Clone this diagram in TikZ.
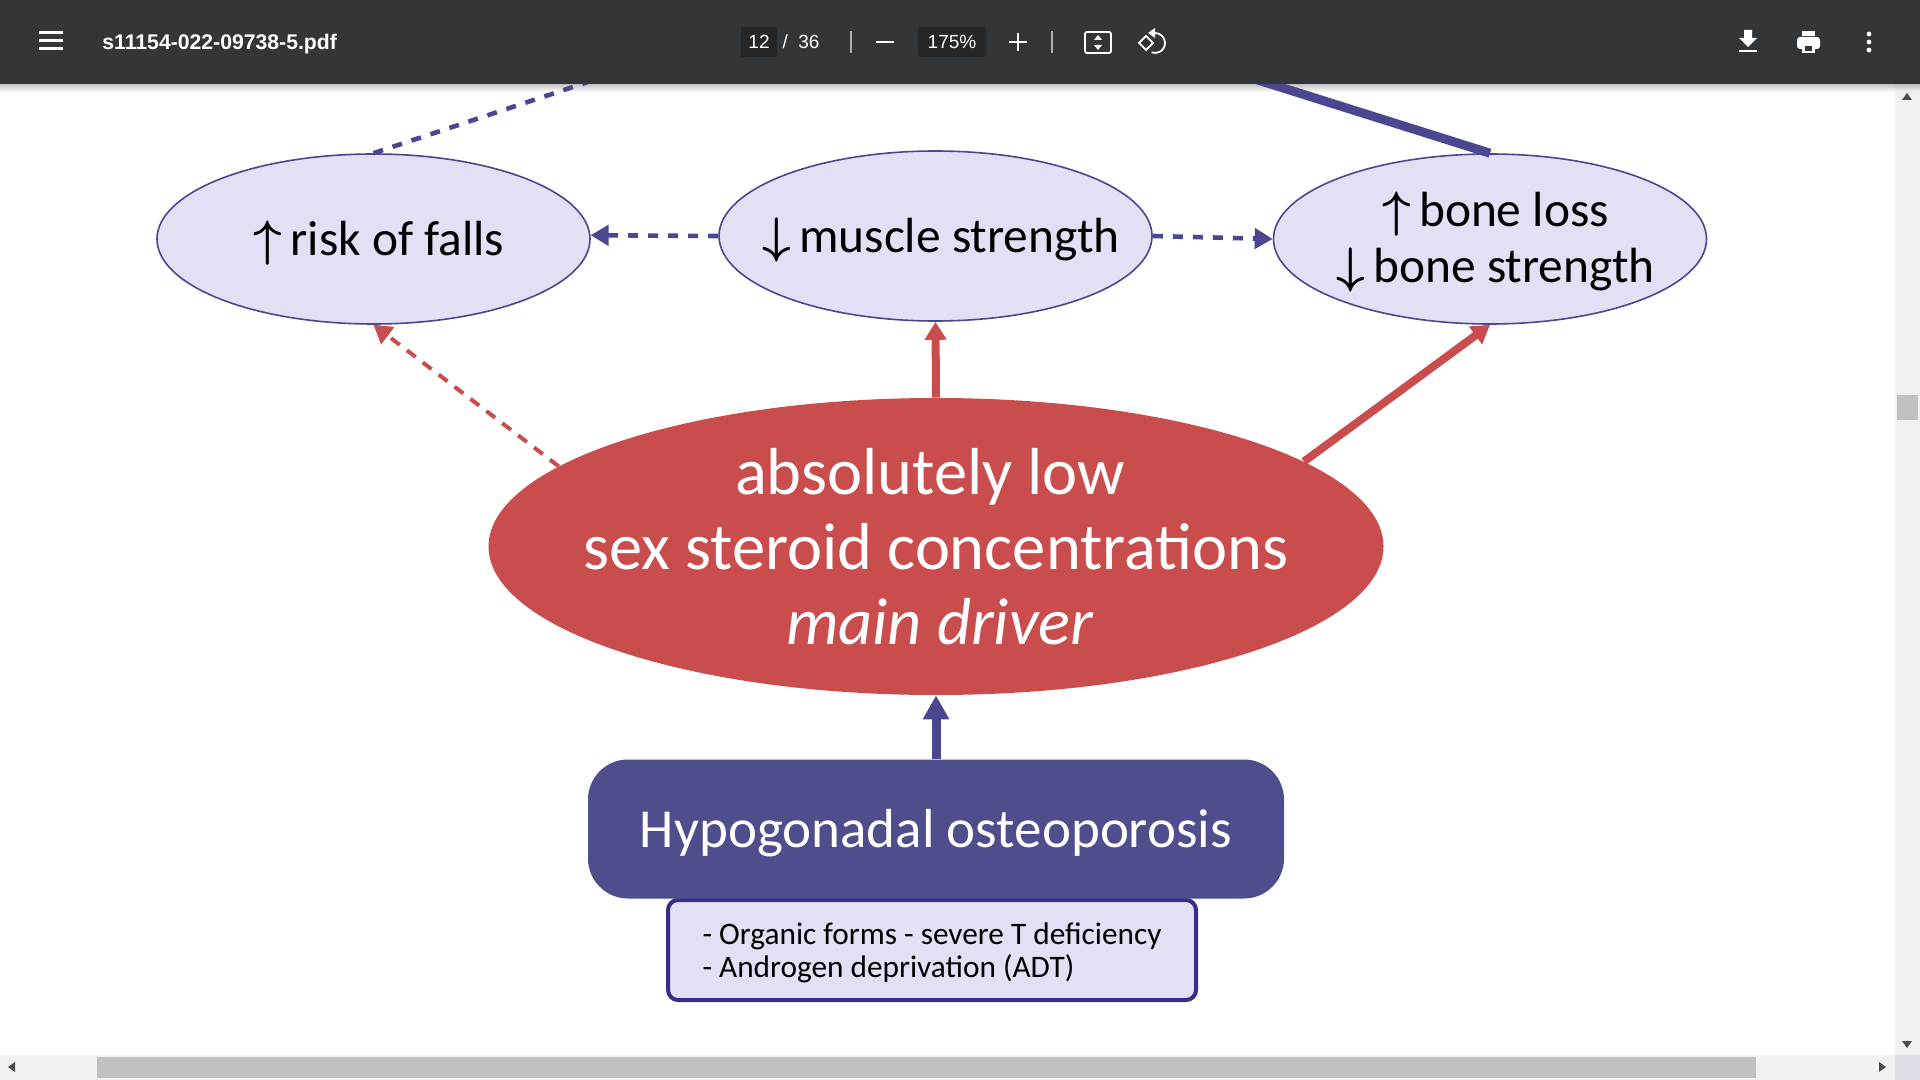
\documentclass[tikz,border=0pt]{standalone}
\usepackage{fontspec}
\setmainfont{Carlito}
\newfontfamily\barfont{Liberation Sans}
\usetikzlibrary{arrows.meta,shapes.geometric}

\definecolor{barcol}{HTML}{323639}
\definecolor{navy}{HTML}{4F4E8C}
\definecolor{navyline}{HTML}{4A4790}
\definecolor{lilac}{HTML}{E3E0F5}
\definecolor{boxline}{HTML}{3D2C85}
\definecolor{redcol}{HTML}{C84D4C}
\definecolor{trackcol}{HTML}{F1F1F1}
\definecolor{thumbcol}{HTML}{C1C1C1}
\definecolor{cornercol}{HTML}{DFDCE6}

\newcommand{\up}{\hspace{5.5pt}{\boldmath$\uparrow$}\,}
\newcommand{\down}{\hspace{5.5pt}{\boldmath$\downarrow$}\,}

\tikzset{
  effect/.style={ellipse, draw=navyline, fill=lilac, line width=0.8pt, inner ysep=0pt, inner xsep=-30pt,
    minimum width=216.5pt, minimum height=85pt, align=center, font=\fontsize{24.7}{29}\selectfont},
  navyarrow/.style={-{Triangle[length=9pt,width=10pt]}, navyline, line width=2.3pt},
  navydash/.style={navyarrow, dash pattern=on 5pt off 5pt},
  redarrow/.style={-{Triangle[length=9pt,width=10.5pt]}, redcol, line width=4pt},
  reddash/.style={redarrow, line width=2pt, dash pattern=on 5.5pt off 4.5pt},
  bartext/.style={text=white, font=\barfont\fontsize{9.5}{11}\selectfont, inner sep=0pt},
  barline/.style={white, line width=1pt},
}

\begin{document}
\begin{tikzpicture}[x=0.5pt, y=-0.5pt]
  \useasboundingbox (0,0) rectangle (1920,1080);
  \fill[white] (0,0) rectangle (1920,1080);
  \fill[trackcol] (1895,84) rectangle (1920,1080);
  \fill[trackcol] (0,1055) rectangle (1920,1080);
  \shade[top color=black!40, bottom color=white, opacity=0.6] (0,84) rectangle (1920,92);

  % the three effects
  \node[effect, text depth=0.8pt] (falls) at (373.5,239) {\up risk of falls};
  \node[effect, text depth=0.8pt] (muscle) at (935.5,236) {\down muscle strength};
  \node[effect, text depth=1.5pt] (bone) at (1490,239) {\up bone loss\\[-1pt]\down bone strength};

  % main driver
  \node[ellipse, fill=redcol, text=white, inner ysep=0pt, inner xsep=-50pt, minimum width=447.5pt, minimum height=148.5pt,
    align=center, font=\fontsize{33.2}{37.5}\selectfont] (driver) at (936,546.5)
    {absolutely low\hspace{6pt}\mbox{}\\sex steroid concentrations\\\hspace{4pt}\textit{main driver}};

  % bottom boxes
  \node[fill=lilac, draw=boxline, line width=2pt, rounded corners=5pt, minimum width=264pt, minimum height=50pt,
    inner sep=0pt, text depth=0pt, align=left, font=\fontsize{15.65}{16.2}\selectfont] (forms) at (932,950)
    {- Organic forms - severe T deficiency\\- Androgen deprivation (ADT)};
  \node[fill=navy, text=white, rounded corners=20pt, minimum width=348pt, minimum height=69.5pt,
    inner sep=0pt, text depth=0.5pt, font=\fontsize{27.5}{30}\selectfont] (hypo) at (936,829) {Hypogonadal osteoporosis};

  % connectors
  \coordinate (fallsend) at (606,76);
  \coordinate (boneend) at (1245,76);
  \draw[navydash, -] (falls.north) -- (fallsend);
  \draw[navyline, line width=4.5pt] (bone.north) -- (boneend);
  \draw[navydash] (muscle.west) -- (falls.1);
  \draw[navydash] (muscle.east) -- (bone.west);
  \draw[redarrow] (driver.north) -- (muscle.south);
  \draw[redarrow] (driver.13) -- (bone.south);
  \draw[reddash] (driver.168) -- (falls.south);
  \draw[navyarrow, -{Triangle[length=12pt,width=12.5pt]}, line width=4.5pt] (hypo.north) -- (driver.south);

  % viewer toolbar
  \fill[barcol] (0,0) rectangle (1920,84);
  \foreach \y in {33,41,49} \draw[barline, line width=1.5pt] (39,\y) -- (63,\y);
  \node[bartext, anchor=west, font=\barfont\bfseries\fontsize{10.6}{12}\selectfont] (filename) at (102,44) {s11154-022-09738-5.pdf};
  \fill[black!85, rounded corners=1pt] (741,27) rectangle (777,57);
  \node[bartext] (pageno) at (759,42) {12};
  \node[bartext] (pagetotal) at (801,41.5) {/ \ 36};
  \draw[white!60!barcol, line width=0.6pt] (851,31) -- (851,53);
  \draw[barline] (876,42) -- (894,42);
  \fill[black!85, rounded corners=1pt] (918,27) rectangle (986,57);
  \node[bartext] (zoomval) at (952,42) {175\%};
  \draw[barline] (1009,42) -- (1027,42);
  \draw[barline] (1018,33) -- (1018,51);
  \draw[white!60!barcol, line width=0.6pt] (1052,31) -- (1052,53);
  % fit and rotate icons
  \draw[white, line width=0.9pt, rounded corners=1pt] (1085,32) rectangle (1111,53);
  \fill[white] (1098,35) -- (1102,40) -- (1094,40) -- cycle (1098,50) -- (1102,45) -- (1094,45) -- cycle;
  \draw[white, line width=0.9pt] (1146,36) -- (1139,43) -- (1146,50) -- (1153,43) -- cycle;
  \draw[white, line width=0.9pt] (1155,33) arc (-90:110:10);
  \fill[white] (1148,33) -- (1155,28) -- (1155,38) -- cycle;
  % download, print, menu
  \fill[white] (1744,30) -- (1752,30) -- (1752,38) -- (1757,38) -- (1748,47) -- (1739,38) -- (1744,38) -- cycle;
  \fill[white] (1739,50) rectangle (1757,52.5);
  \fill[white, rounded corners=1.5pt] (1797,37) rectangle (1820,49);
  \fill[white] (1802,31) rectangle (1815,36);
  \fill[white] (1802,45) rectangle (1815,53);
  \fill[barcol] (1805,46) rectangle (1812,51);
  \foreach \y in {34,42,50} \fill[white] (1869,\y) circle (1.2pt);

  % scrollbars
  \fill[cornercol] (1895,1055) rectangle (1920,1080);
  \fill[thumbcol] (1897,395) rectangle (1918,420);
  \fill[thumbcol] (97,1057) rectangle (1756,1078);
  \fill[black!70] (1907,93) -- (1912,100) -- (1902,100) -- cycle;
  \fill[black!70] (1907,1048) -- (1912,1041) -- (1902,1041) -- cycle;
  \fill[black!70] (8,1067) -- (15,1062) -- (15,1072) -- cycle;
  \fill[black!70] (1886,1067) -- (1879,1062) -- (1879,1072) -- cycle;
\end{tikzpicture}
\end{document}
